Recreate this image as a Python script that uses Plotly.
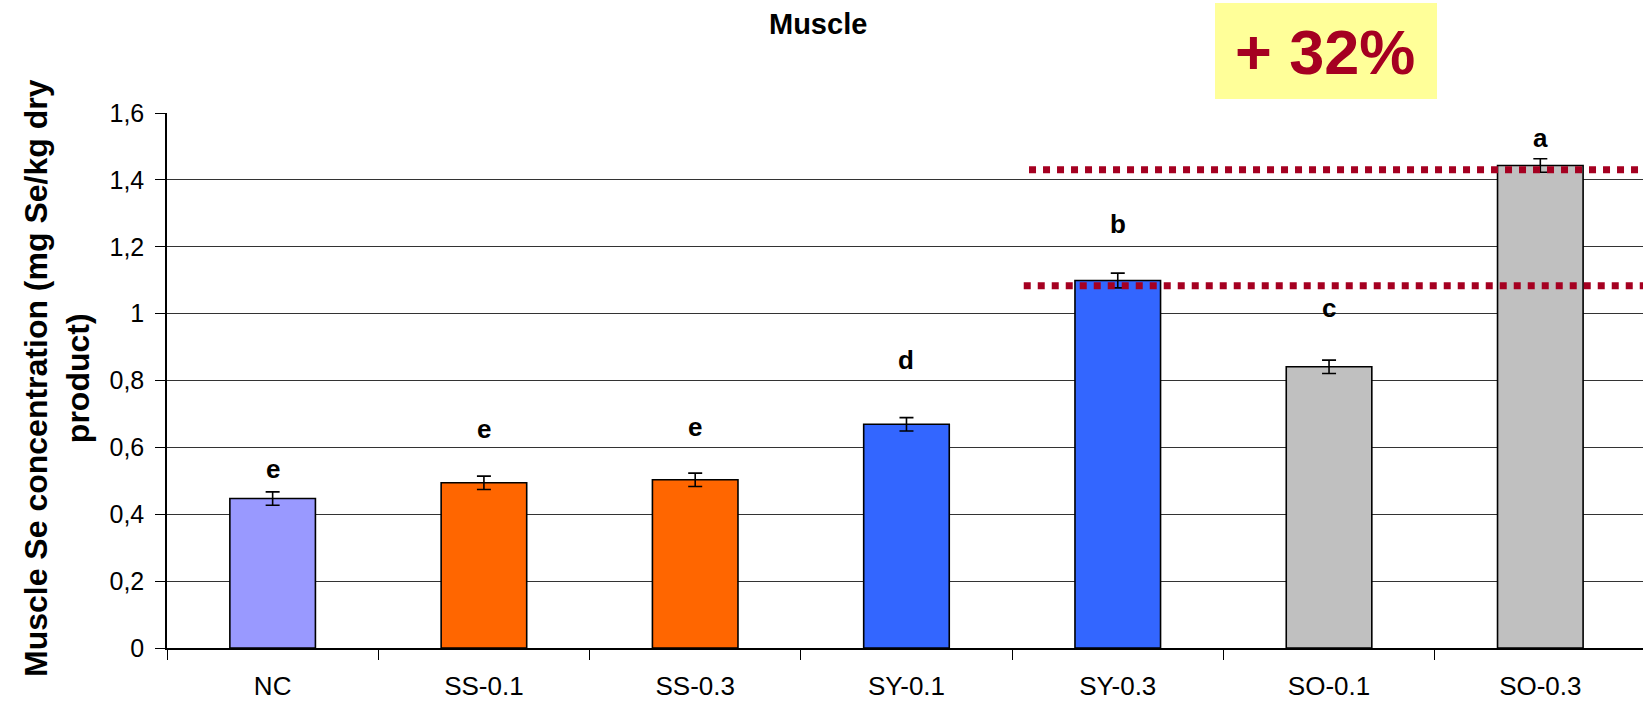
import plotly.graph_objects as go

categories = ["NC", "SS-0.1", "SS-0.3", "SY-0.1", "SY-0.3", "SO-0.1", "SO-0.3"]
values = [0.447, 0.494, 0.503, 0.669, 1.099, 0.841, 1.443]
errors = [0.02, 0.02, 0.02, 0.02, 0.022, 0.02, 0.02]
bar_colors = ["#9999FF", "#FF6600", "#FF6600", "#3366FF", "#3366FF", "#C0C0C0", "#C0C0C0"]
letters = ["e", "e", "e", "d", "b", "c", "a"]
letter_y = [0.535, 0.655, 0.66, 0.86, 1.267, 1.017, 1.525]
ytick_vals = [0, 0.2, 0.4, 0.6, 0.8, 1.0, 1.2, 1.4, 1.6]
ytick_text = ["0", "0,2", "0,4", "0,6", "0,8", "1", "1,2", "1,4", "1,6"]
ref_levels = [1.083, 1.430]
ref_start = [3.555, 3.58]
highlight_text = "+ 32%"

W, H = 1643, 705
L, R, T, B = 167, 0, 113, 57
PW, PH = W - L - R, H - T - B

def px_x(p):
    return (p - L) / PW

def px_y(p):
    return (H - B - p) / PH

FONT = "Arial, Liberation Sans, sans-serif"

fig = go.Figure()
fig.add_trace(go.Bar(
    x=categories, y=values,
    marker=dict(color=bar_colors, line=dict(color="black", width=1.6)),
    width=0.405,
    error_y=dict(type="data", array=errors, visible=True, color="black", thickness=1.6, width=7),
    showlegend=False,
))

annotations = []
for c, l, ly in zip(categories, letters, letter_y):
    annotations.append(dict(x=c, y=ly, text=l, showarrow=False, xref="x", yref="y",
                            font=dict(family=FONT, size=26, color="black", weight="bold"),
                            yanchor="middle"))
# title
annotations.append(dict(x=px_x(818), y=px_y(24), xref="paper", yref="paper", text="<b>Muscle</b>",
                        showarrow=False, font=dict(family=FONT, size=29, color="black"),
                        xanchor="center", yanchor="middle"))
# y-axis title
annotations.append(dict(x=px_x(57), y=px_y(378), xref="paper", yref="paper",
                        text="<b>Muscle Se concentration (mg Se/kg dry<br>product)</b>",
                        showarrow=False, textangle=-90, font=dict(family=FONT, size=32, color="black"),
                        xanchor="center", yanchor="middle"))
# highlight text
annotations.append(dict(x=px_x(1325), y=px_y(52), xref="paper", yref="paper", text="<b>" + highlight_text + "</b>",
                        showarrow=False, font=dict(family=FONT, size=63, color="#A50021"),
                        xanchor="center", yanchor="middle"))

shapes = [dict(type="rect", xref="paper", yref="paper", x0=px_x(1215), x1=px_x(1437),
               y0=px_y(99), y1=px_y(3), fillcolor="#FFFF99", line=dict(width=0), layer="below")]
for lvl, xs in zip(ref_levels, ref_start):
    shapes.append(dict(type="line", xref="x", yref="y", x0=xs, x1=6.486, y0=lvl, y1=lvl,
                       line=dict(color="#A50021", width=7, dash="7px,7px"), layer="above"))

fig.update_layout(
    width=W, height=H,
    margin=dict(l=L, r=R, t=T, b=B, pad=0),
    paper_bgcolor="white", plot_bgcolor="white",
    font=dict(family=FONT, color="black"),
    annotations=annotations, shapes=shapes,
    bargap=0.6,
    xaxis=dict(range=[-0.5, 6.486], showgrid=False, showline=True, linecolor="black", linewidth=1.5,
               ticks="outside", tickson="boundaries", ticklen=10, tickcolor="black", tickwidth=1,
               tickfont=dict(family=FONT, size=26, color="black"), ticklabelstandoff=14, fixedrange=True),
    yaxis=dict(range=[0, 1.6], tickvals=ytick_vals, ticktext=ytick_text, showgrid=True,
               gridcolor="#333333", gridwidth=1, showline=True, linecolor="black", linewidth=1.5,
               ticks="outside", ticklen=10, tickcolor="black", tickwidth=1, zeroline=False,
               tickfont=dict(family=FONT, size=25, color="black"), ticklabelstandoff=6, fixedrange=True),
)

fig.write_html("out.html")
